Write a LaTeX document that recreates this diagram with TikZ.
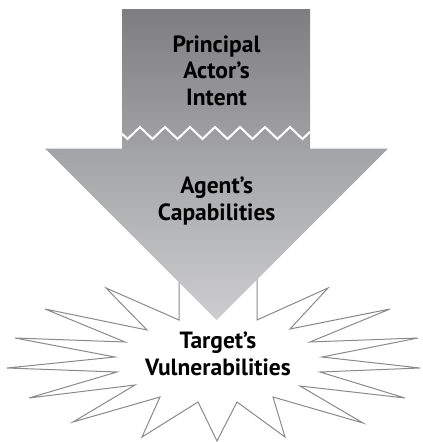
\documentclass[tikz,border=0pt]{standalone}
\usepackage{fontspec}
\setmainfont{PT Sans}
\definecolor{boxtop}{HTML}{7E7E80}
\definecolor{boxbot}{HTML}{A2A2A4}
\definecolor{tritop}{HTML}{A2A3A5}
\definecolor{tribot}{HTML}{CDCDCF}
\definecolor{starline}{HTML}{8A8A8C}
\tikzset{
  lbl/.style={font=\bfseries\fontsize{23.5}{26.5}\selectfont, align=center, text=black, inner sep=0pt},
  starshape/.style={fill=white, draw=starline, line width=1pt, line join=miter}
}
\begin{document}
\begin{tikzpicture}[x=1pt,y=-1pt]
\useasboundingbox (0,0) rectangle (423,442);
% starburst (behind triangle)
\draw[starshape] (179,250) -- (179,320) -- (106,288) -- (147,330) -- (45,309) -- (125,342) -- (15,338) -- (115,357) -- (7,368) -- (117,372) -- (29,398) -- (135,385) -- (73,422) -- (160,397) -- (142,437) -- (198,402) -- (217,441) -- (237,402) -- (285,437) -- (273,397) -- (363,423) -- (300,386) -- (405,398) -- (320,372) -- (420,368) -- (322,357) -- (418,338) -- (310,342) -- (390,309) -- (290,329) -- (328,288) -- (257,320) -- (257,250) -- (217,230) -- cycle;
% top box
\shade[top color=boxtop, bottom color=boxbot] (122,9) rectangle (310,149);
% zigzag break
\draw[white, line width=2pt, line join=miter]
  (122,133.7) -- (127.5,139) -- (140,127) -- (152.5,139) -- (165,127) -- (177.5,139) -- (190,127) -- (202.5,139) -- (215,127) -- (227.5,139) -- (240,127) -- (252.5,139) -- (265,127) -- (277.5,139) -- (290,127) -- (302.5,139) -- (310,131.8);
% arrow head triangle
\shade[top color=tritop, bottom color=tribot] (45,148.5) -- (388,148.5) -- (216.7,320) -- cycle;
% labels (anchor = baseline of last line)
\node[lbl, anchor=base] (intent) at (216.5,105) {Principal\\Actor’s\\Intent};
\node[lbl, anchor=base] (agent) at (216.7,220) {Agent’s\\Capabilities};
\node[lbl, anchor=base] (target) at (218,375) {Target’s\\Vulnerabilities};
\end{tikzpicture}
\end{document}
